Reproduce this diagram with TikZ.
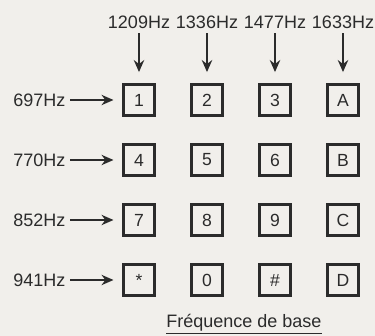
\documentclass[tikz,border=0pt]{standalone}
\usepackage{fontspec}
\setmainfont{Liberation Sans}
\usepackage{tikz}
\usetikzlibrary{arrows.meta,positioning}
\definecolor{inkDark}{HTML}{2B2B2B}
\definecolor{paperGrey}{HTML}{F1EFEB}

\begin{document}
\begin{tikzpicture}[
    keybox/.style={draw=inkDark, line width=1.6pt, minimum size=0.78cm, inner sep=0pt,
                   font=\fontsize{12.5}{14}\selectfont, text=inkDark},
    freq/.style={font=\fontsize{12.8}{14}\selectfont, text=inkDark},
    tone/.style={-{Stealth[length=3mm,width=2.6mm]}, line width=1.1pt, draw=inkDark}
  ]
  \fill[paperGrey] (0,0) rectangle (9.375,8.4);
  \useasboundingbox (0,0) rectangle (9.375,8.4);
  % keypad
  \foreach \r/\y/\ka/\kb/\kc/\kd in {1/5.9/1/2/3/A, 2/4.4/4/5/6/B, 3/2.9/7/8/9/C, 4/1.4/*/0/\#/D} {
     \node[keybox] (k\r-1) at (3.475,\y) {\ka};
     \node[keybox] (k\r-2) at (5.175,\y) {\kb};
     \node[keybox] (k\r-3) at (6.875,\y) {\kc};
     \node[keybox] (k\r-4) at (8.575,\y) {\kd};
  }
  % column tones
  \foreach \c/\x/\f in {1/3.475/1209, 2/5.175/1336, 3/6.875/1477, 4/8.575/1633} {
     \node[freq] (col\c) at (\x,7.85) {\f Hz};
     \draw[tone, shorten >=0.28cm] (col\c.south) -- (k1-\c.north);
  }
  % row tones
  \foreach \r/\f in {1/697, 2/770, 3/852, 4/941} {
     \node[freq, left=1.3cm of k\r-1] (row\r) {\f Hz};
     \draw[tone, shorten >=0.22cm] (row\r.east) -- (k\r-1.west);
  }
  \node[freq] (base) at (6.1,0.3) {\underline{Fréquence de base}};
\end{tikzpicture}
\end{document}
